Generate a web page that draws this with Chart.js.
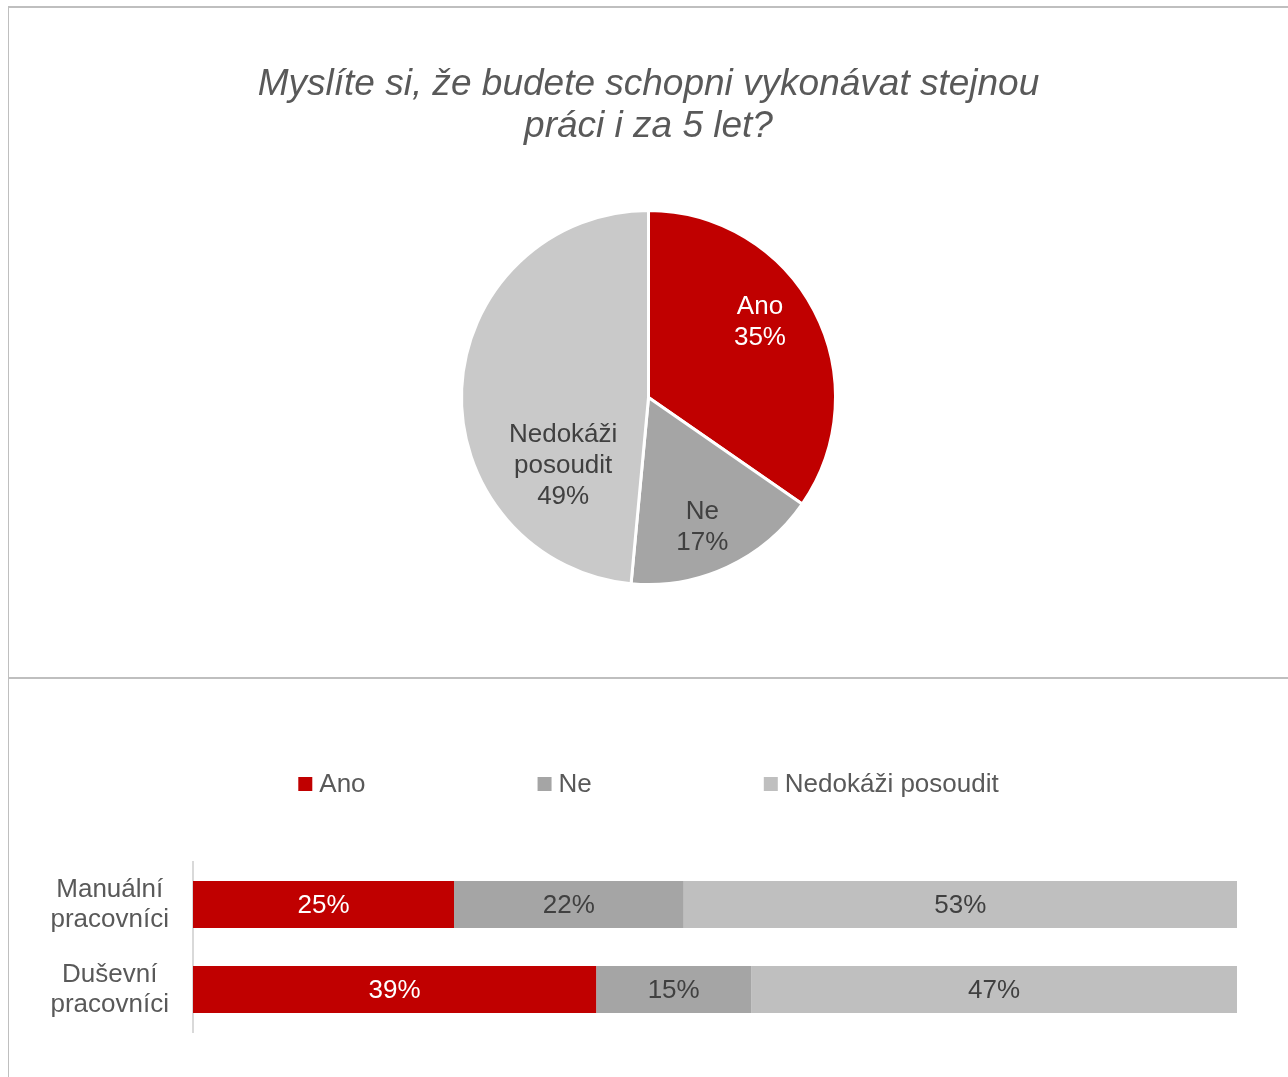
<!DOCTYPE html>
<html>
<head>
<meta charset="utf-8">
<script src="https://cdn.jsdelivr.net/npm/chart.js@4/dist/chart.umd.min.js"></script>
<style>
  html, body { margin: 0; padding: 0; background: #fff; width: 1288px; height: 1077px; overflow: hidden; }
  .line { position: absolute; background: #BFBFBF; }
  #pieWrap { position: absolute; left: 9px; top: 8px; width: 1279px; height: 669px; }
  #barWrap { position: absolute; left: 9px; top: 679px; width: 1279px; height: 398px; }
</style>
</head>
<body>
<div class="line" style="left:8px; top:6px; width:1280px; height:2px;"></div>
<div class="line" style="left:8px; top:6px; width:1px; height:1071px;"></div>
<div class="line" style="left:8px; top:677px; width:1280px; height:2px;"></div>
<div id="pieWrap"><canvas id="pie"></canvas></div>
<div id="barWrap"><canvas id="bar"></canvas></div>
<script>
// ---- Data ----
const titleLines = ["Myslíte si, že budete schopni vykonávat stejnou", "práci i za 5 let?"];
const answers = ["Ano", "Ne", "Nedokáži posoudit"];
const pieValues = [35, 17, 49];
const groups = [["Manuální", "pracovníci"], ["Duševní", "pracovníci"]];
const anoValues = [25, 39];
const neValues = [22, 15];
const nedokaziValues = [53, 47];

// ---- Styles ----
const FONT = "'Liberation Sans', Arial, sans-serif";
const TEXT = "#595959";
const DARK = "#404040";
const FS = 26;
const pieColors = ["#C00000", "#A5A5A5", "#C9C9C9"];
const barColors = ["#C00000", "#A5A5A5", "#BFBFBF"];
const labelColors = ["#FFFFFF", DARK, DARK];
// label placement per slice: fraction of radius and angular shift (deg) from mid-angle
const pieLabelPlace = [{r: 0.72, da: -6.5}, {r: 0.75, da: 2.4}, {r: 0.585, da: -41.4}];
const pieLabelLines = [["Ano"], ["Ne"], ["Nedokáži", "posoudit"]];

Chart.defaults.font.family = FONT;
Chart.defaults.color = TEXT;

const pieLabelPlugin = {
  id: 'pieLabels',
  afterDatasetsDraw(chart) {
    const ctx = chart.ctx;
    const meta = chart.getDatasetMeta(0);
    ctx.save();
    ctx.font = FS + "px " + FONT;
    ctx.textAlign = 'center';
    ctx.textBaseline = 'middle';
    meta.data.forEach((arc, i) => {
      const p = arc.getProps(['x', 'y', 'startAngle', 'endAngle', 'outerRadius'], true);
      const mid = (p.startAngle + p.endAngle) / 2 + pieLabelPlace[i].da * Math.PI / 180;
      const r = p.outerRadius * pieLabelPlace[i].r;
      const cx = p.x + Math.cos(mid) * r;
      const cy = p.y + Math.sin(mid) * r;
      const lines = pieLabelLines[i].concat([chart.data.datasets[0].data[i] + "%"]);
      const lh = 31;
      ctx.fillStyle = labelColors[i];
      lines.forEach((t, k) => {
        ctx.fillText(t, cx, cy + (k - (lines.length - 1) / 2) * lh);
      });
    });
    ctx.restore();
  }
};

new Chart(document.getElementById('pie'), {
  type: 'pie',
  data: {
    labels: answers,
    datasets: [{
      data: pieValues,
      backgroundColor: pieColors,
      borderColor: "#FFFFFF",
      borderWidth: 3
    }]
  },
  options: {
    responsive: true,
    maintainAspectRatio: false,
    animation: false,
    layout: { padding: { top: 0, bottom: 91, left: 0, right: 0 } },
    plugins: {
      legend: { display: false },
      tooltip: { enabled: false },
      title: {
        display: true,
        text: titleLines,
        color: TEXT,
        font: { size: 37, style: 'italic', family: FONT, weight: 'normal', lineHeight: 1.135 },
        padding: { top: 56, bottom: 61 }
      }
    }
  },
  plugins: [pieLabelPlugin]
});

// ---- Bar chart ----
const rawSeries = [anoValues, neValues, nedokaziValues];
const totals = groups.map((g, j) => rawSeries.reduce((s, arr) => s + arr[j], 0));
const shares = rawSeries.map(arr => arr.map((v, j) => v / totals[j] * 100));

const barLabelPlugin = {
  id: 'barLabels',
  afterDatasetsDraw(chart) {
    const ctx = chart.ctx;
    ctx.save();
    ctx.font = FS + "px " + FONT;
    ctx.textAlign = 'center';
    ctx.textBaseline = 'middle';
    chart.data.datasets.forEach((ds, i) => {
      const meta = chart.getDatasetMeta(i);
      meta.data.forEach((bar, j) => {
        const p = bar.getProps(['x', 'y', 'base'], true);
        ctx.fillStyle = labelColors[i];
        ctx.fillText(ds.raw[j] + "%", (p.x + p.base) / 2, p.y + 1);
      });
    });
    ctx.restore();
  }
};

const customLegend = {
  id: 'customLegend',
  afterDraw(chart) {
    const ctx = chart.ctx;
    ctx.save();
    ctx.font = FS + "px " + FONT;
    ctx.textBaseline = 'middle';
    ctx.textAlign = 'left';
    const box = 14, gapText = 7, gapItem = 172;
    const items = chart.data.datasets.map(ds => ({
      text: ds.label, color: ds.backgroundColor, w: box + gapText + ctx.measureText(ds.label).width
    }));
    const total = items.reduce((s, it) => s + it.w, 0) + gapItem * (items.length - 1);
    let x = chart.width / 2 - total / 2;
    const y = 105;
    items.forEach(it => {
      ctx.fillStyle = it.color;
      ctx.fillRect(x, y - box / 2, box, box);
      ctx.fillStyle = TEXT;
      ctx.fillText(it.text, x + box + gapText, y + 1);
      x += it.w + gapItem;
    });
    ctx.restore();
  }
};

new Chart(document.getElementById('bar'), {
  type: 'bar',
  data: {
    labels: groups,
    datasets: answers.map((a, i) => ({
      label: a,
      data: shares[i],
      raw: rawSeries[i],
      backgroundColor: barColors[i],
      borderWidth: 0,
      barPercentage: 0.553,
      categoryPercentage: 1.0
    }))
  },
  options: {
    indexAxis: 'y',
    responsive: true,
    maintainAspectRatio: false,
    animation: false,
    layout: { padding: { top: 183, bottom: 45, left: 39, right: 51 } },
    scales: {
      x: { stacked: true, min: 0, max: 100, display: false },
      y: {
        stacked: true,
        grid: { display: false, drawTicks: false },
        border: { display: true, color: "#D9D9D9", width: 2 },
        ticks: {
          crossAlign: 'center',
          padding: 24,
          color: TEXT,
          font: { size: FS, family: FONT, lineHeight: 1.15 }
        },
        afterFit(scale) { scale.width = 145; scale.paddingTop = 0; scale.paddingBottom = 0; }
      }
    },
    plugins: {
      legend: { display: false },
      tooltip: { enabled: false }
    }
  },
  plugins: [barLabelPlugin, customLegend]
});
</script>
</body>
</html>
